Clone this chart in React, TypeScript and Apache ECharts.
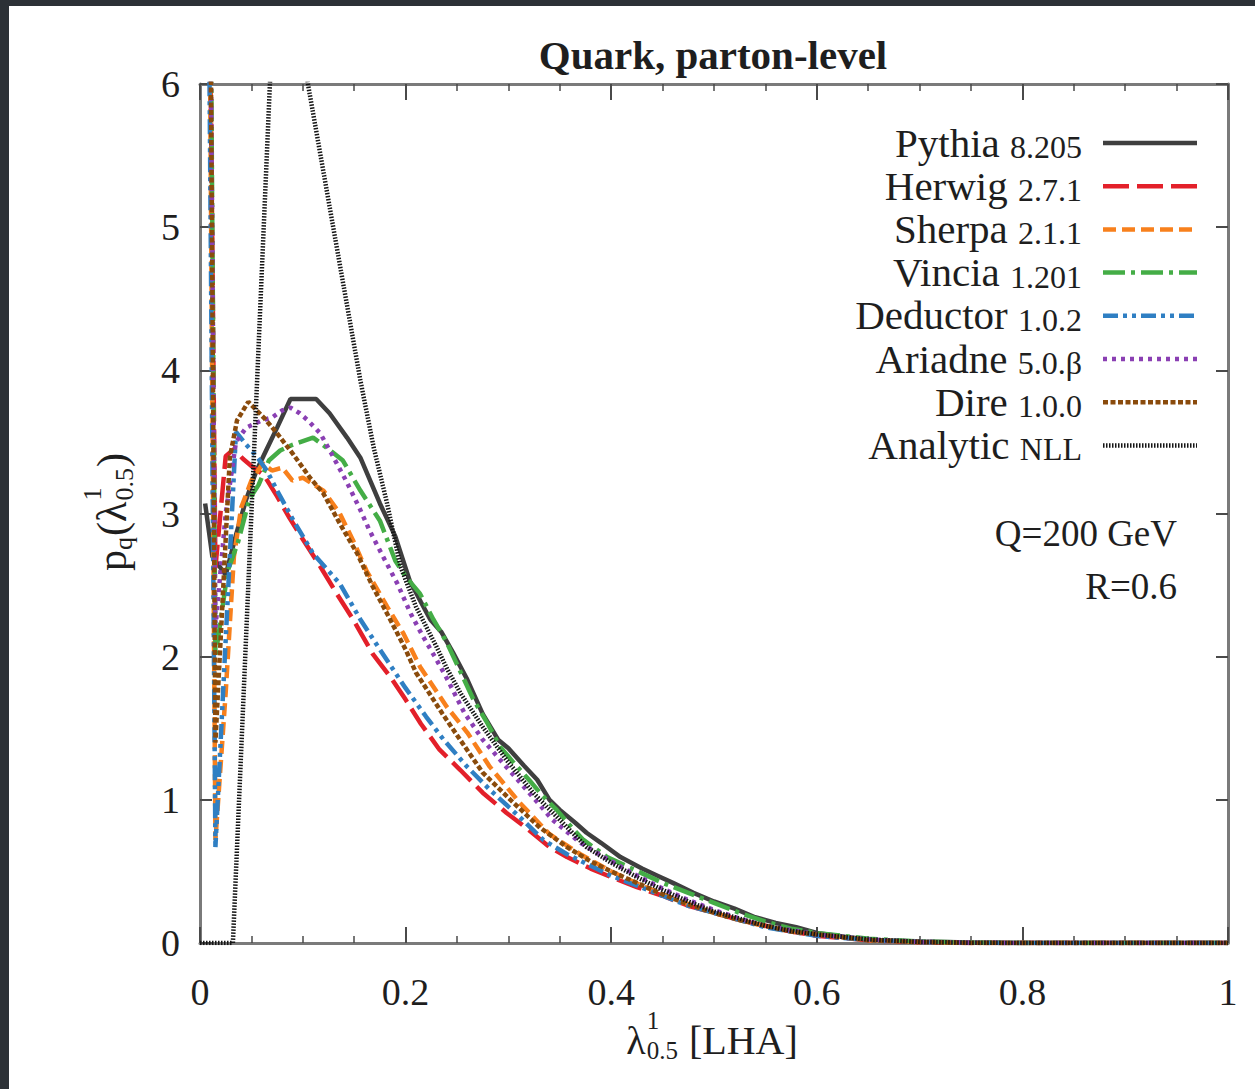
import React, { useEffect, useRef } from "react";
import * as echarts from "echarts";

// ---------- data ----------
const pythia = [
  [0.005, 3.07], [0.012, 2.7], [0.025, 2.57], [0.035, 2.85], [0.045, 3.1], [0.055, 3.3],
  [0.065, 3.45], [0.075, 3.6], [0.088, 3.8], [0.113, 3.8], [0.126, 3.7], [0.143, 3.53],
  [0.156, 3.39], [0.175, 3.07], [0.19, 2.84], [0.204, 2.53], [0.215, 2.38], [0.224, 2.26],
  [0.235, 2.17], [0.246, 2.03], [0.26, 1.84], [0.275, 1.6], [0.29, 1.42], [0.3, 1.36],
  [0.315, 1.24], [0.328, 1.14], [0.34, 1.0], [0.35, 0.93], [0.365, 0.84], [0.376, 0.77],
  [0.39, 0.7], [0.409, 0.6], [0.43, 0.52], [0.445, 0.47], [0.46, 0.42], [0.48, 0.35],
  [0.5, 0.29], [0.52, 0.24], [0.54, 0.18], [0.56, 0.14], [0.58, 0.11], [0.6, 0.07],
  [0.63, 0.04], [0.66, 0.02], [0.7, 0.01], [0.75, 0.003], [0.8, 0], [1.0, 0],
];
const herwig = [
  [0.005, 10], [0.015, 2.62], [0.025, 3.4], [0.033, 3.45], [0.042, 3.38], [0.052, 3.32],
  [0.062, 3.27], [0.075, 3.12], [0.087, 2.97], [0.1, 2.82], [0.117, 2.63], [0.133, 2.44],
  [0.149, 2.26], [0.168, 2.02], [0.185, 1.86], [0.2, 1.7], [0.215, 1.53], [0.233, 1.35],
  [0.253, 1.21], [0.275, 1.05], [0.298, 0.91], [0.318, 0.8], [0.34, 0.67], [0.357, 0.6],
  [0.38, 0.52], [0.4, 0.46], [0.425, 0.39], [0.45, 0.33], [0.475, 0.26], [0.5, 0.21],
  [0.525, 0.16], [0.55, 0.12], [0.575, 0.08], [0.6, 0.05], [0.65, 0.02], [0.7, 0.005],
  [0.75, 0], [1.0, 0],
];
const sherpa = [
  [0.005, 11], [0.015, 0.72], [0.025, 1.75], [0.033, 2.7], [0.04, 3.04], [0.05, 3.23],
  [0.061, 3.35], [0.07, 3.3], [0.08, 3.32], [0.09, 3.23], [0.1, 3.25], [0.12, 3.16],
  [0.136, 3.0], [0.149, 2.81], [0.162, 2.6], [0.182, 2.35], [0.198, 2.16], [0.214, 1.93],
  [0.24, 1.65], [0.26, 1.47], [0.282, 1.23], [0.311, 0.98], [0.34, 0.76], [0.37, 0.62],
  [0.4, 0.5], [0.43, 0.4], [0.46, 0.31], [0.5, 0.21], [0.53, 0.15], [0.56, 0.1],
  [0.6, 0.06], [0.65, 0.02], [0.7, 0.006], [0.75, 0], [1.0, 0],
];
const vincia = [
  [0.005, 12], [0.015, 2.0], [0.027, 2.6], [0.037, 2.8], [0.048, 3.1], [0.057, 3.2],
  [0.067, 3.37], [0.078, 3.44], [0.09, 3.48], [0.11, 3.53], [0.125, 3.45], [0.139, 3.37],
  [0.156, 3.16], [0.175, 2.95], [0.19, 2.67], [0.2, 2.56], [0.214, 2.44], [0.227, 2.26],
  [0.24, 2.1], [0.253, 1.9], [0.266, 1.7], [0.28, 1.53], [0.292, 1.37], [0.305, 1.26],
  [0.32, 1.14], [0.333, 1.03], [0.347, 0.93], [0.36, 0.82], [0.373, 0.72], [0.396, 0.6],
  [0.42, 0.52], [0.45, 0.42], [0.475, 0.35], [0.5, 0.28], [0.525, 0.21], [0.55, 0.15],
  [0.575, 0.1], [0.6, 0.07], [0.65, 0.03], [0.7, 0.01], [0.75, 0.003], [0.8, 0], [1.0, 0],
];
const deductor = [
  [0.005, 10], [0.015, 0.67], [0.035, 3.57], [0.045, 3.48], [0.055, 3.4], [0.065, 3.3],
  [0.075, 3.16], [0.091, 2.95], [0.11, 2.72], [0.136, 2.51], [0.156, 2.26], [0.175, 2.05],
  [0.2, 1.78], [0.22, 1.58], [0.237, 1.42], [0.26, 1.23], [0.282, 1.07], [0.311, 0.88],
  [0.334, 0.72], [0.357, 0.62], [0.38, 0.54], [0.4, 0.47], [0.425, 0.4], [0.45, 0.33],
  [0.475, 0.26], [0.5, 0.21], [0.525, 0.16], [0.55, 0.11], [0.575, 0.08], [0.6, 0.05],
  [0.65, 0.02], [0.7, 0.005], [0.75, 0], [1.0, 0],
];
const ariadne = [
  [0.005, 11], [0.015, 2.2], [0.025, 3.0], [0.035, 3.5], [0.045, 3.6], [0.06, 3.65],
  [0.07, 3.67], [0.08, 3.72], [0.088, 3.74], [0.097, 3.7], [0.105, 3.65], [0.117, 3.56],
  [0.13, 3.39], [0.142, 3.23], [0.155, 3.04], [0.165, 2.88], [0.178, 2.7], [0.192, 2.51],
  [0.205, 2.3], [0.217, 2.14], [0.23, 1.98], [0.24, 1.85], [0.257, 1.61], [0.275, 1.42],
  [0.298, 1.23], [0.32, 1.05], [0.343, 0.86], [0.37, 0.7], [0.393, 0.6], [0.42, 0.49],
  [0.45, 0.38], [0.475, 0.3], [0.5, 0.23], [0.525, 0.17], [0.55, 0.12], [0.575, 0.09],
  [0.6, 0.06], [0.65, 0.025], [0.7, 0.008], [0.75, 0.002], [0.8, 0], [1.0, 0],
];
const dire = [
  [0.005, 12], [0.015, 1.4], [0.029, 3.39], [0.036, 3.65], [0.047, 3.78], [0.062, 3.67],
  [0.075, 3.56], [0.09, 3.42], [0.107, 3.25], [0.12, 3.14], [0.136, 2.93], [0.153, 2.72],
  [0.168, 2.49], [0.185, 2.26], [0.2, 2.05], [0.21, 1.89], [0.236, 1.6], [0.253, 1.42],
  [0.275, 1.19], [0.302, 1.0], [0.33, 0.81], [0.357, 0.67], [0.38, 0.57], [0.4, 0.5],
  [0.425, 0.42], [0.45, 0.34], [0.475, 0.27], [0.5, 0.21], [0.525, 0.16], [0.55, 0.12],
  [0.575, 0.08], [0.6, 0.06], [0.65, 0.02], [0.7, 0.006], [0.75, 0], [1.0, 0],
];
const analytic = [
  [0, 0], [0.032, 0], [0.04, 1.33], [0.05, 3.0], [0.06, 4.67], [0.068, 6.0], [0.077, 7.0],
  [0.087, 7.1], [0.097, 6.5], [0.105, 6.0], [0.12, 5.39], [0.135, 4.78], [0.156, 3.93],
  [0.169, 3.46], [0.182, 3.07], [0.195, 2.63], [0.21, 2.35], [0.23, 2.07], [0.24, 1.92],
  [0.253, 1.75], [0.275, 1.51], [0.298, 1.28], [0.324, 1.05], [0.35, 0.86], [0.376, 0.67],
  [0.4, 0.56], [0.425, 0.46], [0.45, 0.37], [0.475, 0.29], [0.5, 0.22], [0.525, 0.17],
  [0.55, 0.12], [0.575, 0.085], [0.6, 0.06], [0.65, 0.025], [0.7, 0.008], [0.75, 0.002],
  [0.8, 0], [1.0, 0],
];

const seriesNames = ["Pythia", "Herwig", "Sherpa", "Vincia", "Deductor", "Ariadne", "Dire", "Analytic"];
const seriesVersions = ["8.205", "2.7.1", "2.1.1", "1.201", "1.0.2", "5.0.β", "1.0.0", "NLL"];
const seriesData = [pythia, herwig, sherpa, vincia, deductor, ariadne, dire, analytic];

const titleText = "Quark, parton-level";
const noteLines = ["Q=200 GeV", "R=0.6"];

// ---------- styles ----------
const FONT = "'Liberation Serif', 'DejaVu Serif', serif";
const styles = [
  { color: "#3f3f3f", width: 4.5, dash: "solid" as any },
  { color: "#e3202a", width: 4.5, dash: [26, 8] },
  { color: "#f8801c", width: 4.5, dash: [13, 6] },
  { color: "#44ad46", width: 4.5, dash: [22, 6, 4, 6] },
  { color: "#2f7fc3", width: 4.5, dash: [15, 5, 4, 5, 4, 5] },
  { color: "#8a3fb3", width: 4.5, dash: [4, 5] },
  { color: "#8a4b0c", width: 4.5, dash: [5, 2.5] },
  { color: "#151515", width: 4.5, dash: [1.5, 1.5] },
];

// grid geometry
const G = { left: 200, right: 27, top: 84, bottom: 146 };

function measure(text: string, size: number, bold = false) {
  const c = document.createElement("canvas").getContext("2d")!;
  c.font = `${bold ? "bold " : ""}${size}px "Liberation Serif"`;
  return c.measureText(text).width;
}

export default function App() {
  const ref = useRef<HTMLDivElement>(null);
  useEffect(() => {
    if (!ref.current) return;
    const chart = echarts.init(ref.current, undefined, { renderer: "svg" });

    const tickLabel = { fontFamily: FONT, fontSize: 38, color: "#1e1e1e" };
    const axisLine = { show: true, onZero: false, lineStyle: { color: "#7a7a7a", width: 3 } };

    // ----- x axis name: λ^1_0.5 [LHA]
    const MS = 40, SS = 25;
    const wL = measure("λ", MS);
    const wS = Math.max(measure("1", SS), measure("0.5", SS));
    const wR = measure(" [LHA]", MS);
    const totX = wL + wS + wR + 2;
    const sx = 712 - totX / 2;
    const xNameY = 1040;
    const xName = [
      { type: "text", x: sx, y: xNameY, style: { text: "λ", font: `${MS}px ${FONT}`, fill: "#1e1e1e", align: "left", verticalAlign: "middle" } },
      { type: "text", x: sx + wL + 1, y: xNameY - 20, style: { text: "1", font: `${SS}px ${FONT}`, fill: "#1e1e1e", align: "left", verticalAlign: "middle" } },
      { type: "text", x: sx + wL + 1, y: xNameY + 10, style: { text: "0.5", font: `${SS}px ${FONT}`, fill: "#1e1e1e", align: "left", verticalAlign: "middle" } },
      { type: "text", x: sx + wL + wS + 2, y: xNameY, style: { text: " [LHA]", font: `${MS}px ${FONT}`, fill: "#1e1e1e", align: "left", verticalAlign: "middle" } },
    ];

    // ----- y axis name: p_q(λ^1_0.5)
    const YM = 42, YS = 26;
    const wp = measure("p", YM);
    const wq = measure("q", YS);
    const wpl = measure("(λ", YM);
    const wst = Math.max(measure("1", YS), measure("0.5", YS));
    const wpr = measure(")", YM);
    const totY = wp + wq + wpl + wst + wpr + 3;
    let lx = -totY / 2;
    const yKids: any[] = [];
    const addY = (t: string, size: number, dy: number, adv: number) => {
      yKids.push({ type: "text", x: lx, y: dy, style: { text: t, font: `${size}px ${FONT}`, fill: "#1e1e1e", align: "left", verticalAlign: "middle" } });
      lx += adv;
    };
    addY("p", YM, 0, wp);
    addY("q", YS, 11, wq + 1);
    addY("(λ", YM, 0, wpl + 1);
    yKids.push({ type: "text", x: lx, y: -20, style: { text: "1", font: `${YS}px ${FONT}`, fill: "#1e1e1e", align: "left", verticalAlign: "middle" } });
    addY("0.5", YS, 12, wst + 1);
    addY(")", YM, 0, wpr);

    // ----- legend
    const legendEls: any[] = [];
    seriesNames.forEach((n, i) => {
      const y = 143 + i * 43.2;
      legendEls.push({
        type: "text", x: 1082, y: y,
        style: {
          text: `{a|${n} }{b|${seriesVersions[i]}}`,
          rich: {
            a: { fontFamily: FONT, fontSize: 41, fill: "#1e1e1e", verticalAlign: "bottom", lineHeight: 40 },
            b: { fontFamily: FONT, fontSize: 32, fill: "#1e1e1e", verticalAlign: "bottom", lineHeight: 36 },
          },
          align: "right", verticalAlign: "middle",
        },
        z: 100,
      });
      const s = styles[i];
      legendEls.push({
        type: "line", shape: { x1: 1103, y1: y, x2: 1197, y2: y },
        style: { stroke: s.color, lineWidth: s.width, lineDash: s.dash === "solid" ? null : s.dash },
        z: 100,
      });
    });

    const notes = noteLines.map((t, i) => ({
      type: "text", x: 1177, y: 533 + i * 53,
      style: { text: t, font: `37px ${FONT}`, fill: "#1e1e1e", align: "right", verticalAlign: "middle" },
    }));

    const option: any = {
      animation: false,
      backgroundColor: "#ffffff",
      title: {
        text: titleText, left: 708, top: 50, textAlign: "center", textVerticalAlign: "middle",
        textStyle: { fontFamily: FONT, fontWeight: "bold", fontSize: 41, color: "#1e1e1e" },
      },
      grid: { ...G, containLabel: false },
      xAxis: [
        {
          type: "value", min: 0, max: 1, interval: 0.2, position: "bottom",
          axisLine, splitLine: { show: false },
          axisTick: { show: true, inside: true, length: 16, lineStyle: { color: "#4a4a4a", width: 2 } },
          minorTick: { show: true, splitNumber: 4, length: 7, lineStyle: { color: "#4a4a4a", width: 1.5 } },
          axisLabel: { ...tickLabel, margin: 30 },
        },
        {
          type: "value", min: 0, max: 1, interval: 0.2, position: "top",
          axisLine, splitLine: { show: false },
          axisTick: { show: true, inside: true, length: 16, lineStyle: { color: "#4a4a4a", width: 2 } },
          minorTick: { show: true, splitNumber: 4, length: 7, lineStyle: { color: "#4a4a4a", width: 1.5 } },
          axisLabel: { show: false },
        },
      ],
      yAxis: [
        {
          type: "value", min: 0, max: 6, interval: 1, position: "left",
          axisLine, splitLine: { show: false },
          axisTick: { show: true, inside: true, length: 12, lineStyle: { color: "#4a4a4a", width: 2 } },
          axisLabel: { ...tickLabel, margin: 20 },
        },
        {
          type: "value", min: 0, max: 6, interval: 1, position: "right",
          axisLine, splitLine: { show: false },
          axisTick: { show: true, inside: true, length: 12, lineStyle: { color: "#4a4a4a", width: 2 } },
          axisLabel: { show: false },
        },
      ],
      series: seriesData.map((d, i) => ({
        name: `${seriesNames[i]} ${seriesVersions[i]}`,
        type: "line",
        data: d,
        xAxisIndex: 0,
        yAxisIndex: 0,
        showSymbol: false,
        symbol: "none",
        clip: true,
        z: 2 + i,
        lineStyle: { color: styles[i].color, width: styles[i].width, type: styles[i].dash },
      })),
      graphic: [
        ...xName,
        { type: "group", x: 112, y: 512, rotation: Math.PI / 2, children: yKids },
        ...legendEls,
        ...notes,
        { type: "rect", shape: { x: 0, y: 0, width: 1255, height: 6 }, style: { fill: "#2c3136" }, z: 200 },
        { type: "rect", shape: { x: 0, y: 0, width: 9, height: 1089 }, style: { fill: "#2c3136" }, z: 200 },
      ],
    };
    chart.setOption(option);
    return () => chart.dispose();
  }, []);

  return (
    <div
      ref={ref}
      style={{ position: "absolute", left: 0, top: 0, width: 1255, height: 1089 }}
    />
  );
}
